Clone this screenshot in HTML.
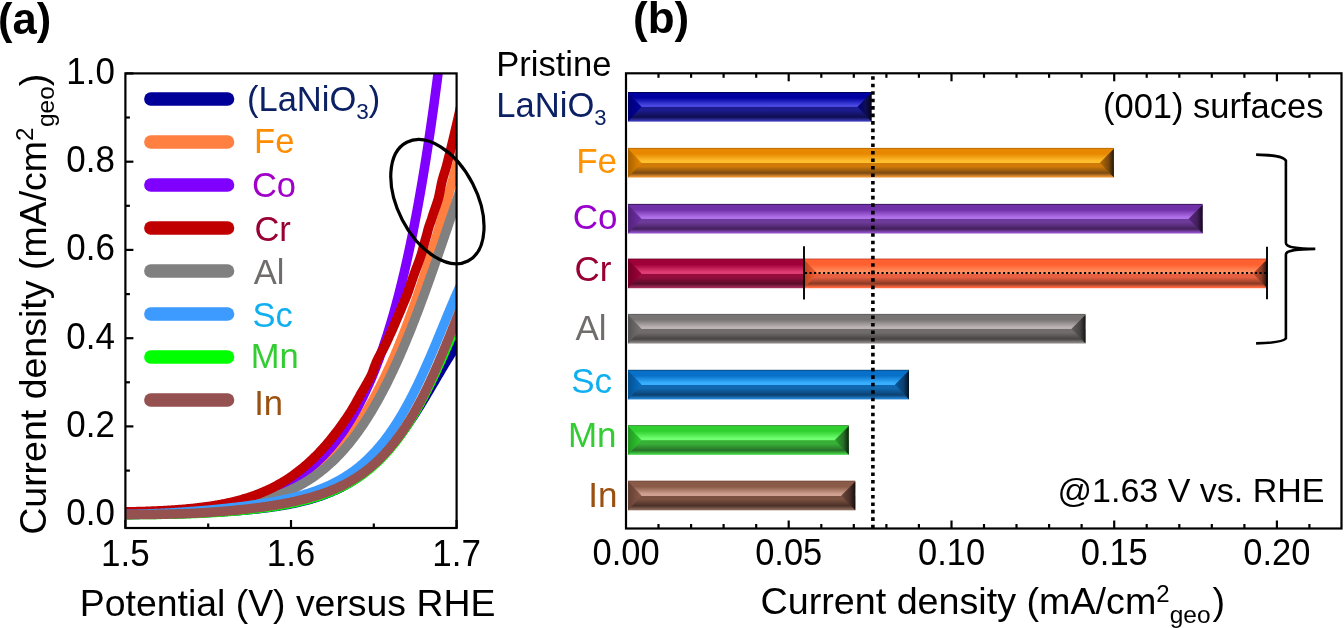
<!DOCTYPE html>
<html><head><meta charset="utf-8"><style>
html,body{margin:0;padding:0;background:#fff;width:1344px;height:628px;overflow:hidden;font-family:"Liberation Sans",sans-serif;}
svg{display:block;will-change:transform;}
</style></head><body>
<svg width="1344" height="628" viewBox="0 0 1344 628"><defs>
<clipPath id="clipA"><rect x="125.4" y="73.4" width="331.2" height="454.6"/></clipPath>
</defs>
<line x1="125.4" y1="514.7" x2="133.4" y2="514.7" stroke="#000" stroke-width="2.2"/>
<line x1="125.4" y1="470.6" x2="129.9" y2="470.6" stroke="#000" stroke-width="2.2"/>
<line x1="125.4" y1="426.4" x2="133.4" y2="426.4" stroke="#000" stroke-width="2.2"/>
<line x1="125.4" y1="382.3" x2="129.9" y2="382.3" stroke="#000" stroke-width="2.2"/>
<line x1="125.4" y1="338.2" x2="133.4" y2="338.2" stroke="#000" stroke-width="2.2"/>
<line x1="125.4" y1="294.1" x2="129.9" y2="294.1" stroke="#000" stroke-width="2.2"/>
<line x1="125.4" y1="249.9" x2="133.4" y2="249.9" stroke="#000" stroke-width="2.2"/>
<line x1="125.4" y1="205.8" x2="129.9" y2="205.8" stroke="#000" stroke-width="2.2"/>
<line x1="125.4" y1="161.7" x2="133.4" y2="161.7" stroke="#000" stroke-width="2.2"/>
<line x1="125.4" y1="117.5" x2="129.9" y2="117.5" stroke="#000" stroke-width="2.2"/>
<line x1="125.4" y1="73.4" x2="133.4" y2="73.4" stroke="#000" stroke-width="2.2"/>
<line x1="125.4" y1="528.0" x2="125.4" y2="520.0" stroke="#000" stroke-width="2.2"/>
<line x1="208.2" y1="528.0" x2="208.2" y2="523.5" stroke="#000" stroke-width="2.2"/>
<line x1="291.0" y1="528.0" x2="291.0" y2="520.0" stroke="#000" stroke-width="2.2"/>
<line x1="373.8" y1="528.0" x2="373.8" y2="523.5" stroke="#000" stroke-width="2.2"/>
<line x1="456.6" y1="528.0" x2="456.6" y2="520.0" stroke="#000" stroke-width="2.2"/>
<g clip-path="url(#clipA)" fill="none" stroke-width="9.5" stroke-linejoin="round">
<path d="M118.00,514.57 L119.00,514.56 L120.00,514.55 L121.00,514.55 L122.00,514.54 L123.00,514.53 L124.00,514.53 L125.00,514.52 L126.00,514.51 L127.00,514.50 L128.00,514.49 L129.00,514.48 L130.00,514.48 L131.00,514.47 L132.00,514.46 L133.00,514.45 L134.00,514.44 L135.00,514.43 L136.00,514.42 L137.00,514.41 L138.00,514.40 L139.00,514.38 L140.00,514.37 L141.00,514.36 L142.00,514.35 L143.00,514.34 L144.00,514.32 L145.00,514.31 L146.00,514.29 L147.00,514.28 L148.00,514.27 L149.00,514.25 L150.00,514.24 L151.00,514.22 L152.00,514.20 L153.00,514.19 L154.00,514.17 L155.00,514.15 L156.00,514.14 L157.00,514.12 L158.00,514.10 L159.00,514.08 L160.00,514.06 L161.00,514.04 L162.00,514.02 L163.00,514.00 L164.00,513.98 L165.00,513.96 L166.00,513.94 L167.00,513.91 L168.00,513.89 L169.00,513.87 L170.00,513.84 L171.00,513.82 L172.00,513.79 L173.00,513.77 L174.00,513.74 L175.00,513.72 L176.00,513.69 L177.00,513.66 L178.00,513.64 L179.00,513.61 L180.00,513.58 L181.00,513.55 L182.00,513.52 L183.00,513.49 L184.00,513.46 L185.00,513.42 L186.00,513.39 L187.00,513.36 L188.00,513.32 L189.00,513.29 L190.00,513.26 L191.00,513.22 L192.00,513.18 L193.00,513.15 L194.00,513.11 L195.00,513.07 L196.00,513.03 L197.00,512.99 L198.00,512.95 L199.00,512.91 L200.00,512.87 L201.00,512.83 L202.00,512.79 L203.00,512.74 L204.00,512.70 L205.00,512.65 L206.00,512.61 L207.00,512.56 L208.00,512.51 L209.00,512.47 L210.00,512.42 L211.00,512.37 L212.00,512.32 L213.00,512.26 L214.00,512.21 L215.00,512.16 L216.00,512.11 L217.00,512.05 L218.00,511.99 L219.00,511.94 L220.00,511.88 L221.00,511.82 L222.00,511.76 L223.00,511.70 L224.00,511.64 L225.00,511.58 L226.00,511.51 L227.00,511.45 L228.00,511.38 L229.00,511.32 L230.00,511.25 L231.00,511.18 L232.00,511.11 L233.00,511.04 L234.00,510.96 L235.00,510.89 L236.00,510.82 L237.00,510.74 L238.00,510.66 L239.00,510.58 L240.00,510.50 L241.00,510.42 L242.00,510.34 L243.00,510.25 L244.00,510.17 L245.00,510.08 L246.00,509.99 L247.00,509.90 L248.00,509.81 L249.00,509.72 L250.00,509.62 L251.00,509.53 L252.00,509.43 L253.00,509.33 L254.00,509.23 L255.00,509.12 L256.00,509.02 L257.00,508.91 L258.00,508.80 L259.00,508.69 L260.00,508.58 L261.00,508.46 L262.00,508.35 L263.00,508.23 L264.00,508.11 L265.00,507.99 L266.00,507.86 L267.00,507.73 L268.00,507.60 L269.00,507.47 L270.00,507.34 L271.00,507.20 L272.00,507.06 L273.00,506.92 L274.00,506.78 L275.00,506.63 L276.00,506.48 L277.00,506.33 L278.00,506.17 L279.00,506.02 L280.00,505.86 L281.00,505.69 L282.00,505.53 L283.00,505.36 L284.00,505.18 L285.00,505.01 L286.00,504.83 L287.00,504.65 L288.00,504.46 L289.00,504.27 L290.00,504.08 L291.00,503.88 L292.00,503.68 L293.00,503.48 L294.00,503.27 L295.00,503.06 L296.00,502.84 L297.00,502.63 L298.00,502.40 L299.00,502.17 L300.00,501.94 L301.00,501.70 L302.00,501.46 L303.00,501.22 L304.00,500.97 L305.00,500.71 L306.00,500.45 L307.00,500.19 L308.00,499.92 L309.00,499.64 L310.00,499.36 L311.00,499.08 L312.00,498.78 L313.00,498.49 L314.00,498.19 L315.00,497.88 L316.00,497.56 L317.00,497.24 L318.00,496.92 L319.00,496.58 L320.00,496.24 L321.00,495.90 L322.00,495.55 L323.00,495.19 L324.00,494.82 L325.00,494.45 L326.00,494.07 L327.00,493.68 L328.00,493.29 L329.00,492.88 L330.00,492.47 L331.00,492.05 L332.00,491.63 L333.00,491.19 L334.00,490.75 L335.00,490.30 L336.00,489.84 L337.00,489.37 L338.00,488.90 L339.00,488.41 L340.00,487.92 L341.00,487.41 L342.00,486.90 L343.00,486.37 L344.00,485.84 L345.00,485.30 L346.00,484.74 L347.00,484.18 L348.00,483.60 L349.00,483.02 L350.00,482.42 L351.00,481.82 L352.00,481.20 L353.00,480.57 L354.00,479.93 L355.00,479.27 L356.00,478.61 L357.00,477.93 L358.00,477.24 L359.00,476.54 L360.00,475.83 L361.00,475.10 L362.00,474.36 L363.00,473.61 L364.00,472.84 L365.00,472.07 L366.00,471.27 L367.00,470.47 L368.00,469.65 L369.00,468.81 L370.00,467.96 L371.00,467.10 L372.00,466.22 L373.00,465.33 L374.00,464.42 L375.00,463.50 L376.00,462.57 L377.00,461.61 L378.00,460.65 L379.00,459.66 L380.00,458.66 L381.00,457.65 L382.00,456.62 L383.00,455.57 L384.00,454.51 L385.00,453.43 L386.00,452.34 L387.00,451.23 L388.00,450.10 L389.00,448.96 L390.00,447.80 L391.00,446.62 L392.00,445.43 L393.00,444.22 L394.00,442.99 L395.00,441.75 L396.00,440.49 L397.00,439.22 L398.00,437.93 L399.00,436.62 L400.00,435.29 L401.00,433.95 L402.00,432.60 L403.00,431.22 L404.00,429.83 L405.00,428.43 L406.00,427.01 L407.00,425.57 L408.00,424.12 L409.00,422.66 L410.00,421.18 L411.00,419.68 L412.00,418.17 L413.00,416.65 L414.00,415.11 L415.00,413.57 L416.00,412.00 L417.00,410.43 L418.00,408.84 L419.00,407.24 L420.00,405.63 L421.00,404.01 L422.00,402.38 L423.00,400.74 L424.00,399.09 L425.00,397.43 L426.00,395.77 L427.00,394.09 L428.00,392.41 L429.00,390.73 L430.00,389.04 L431.00,387.34 L432.00,385.64 L433.00,383.94 L434.00,382.24 L435.00,380.54 L436.00,378.83 L437.00,377.13 L438.00,375.43 L439.00,373.73 L440.00,372.03 L441.00,370.34 L442.00,368.66 L443.00,366.98 L444.00,365.31 L445.00,363.65 L446.00,362.00 L447.00,360.36 L448.00,358.74 L449.00,357.13 L450.00,355.53 L451.00,353.96 L452.00,352.40 L453.00,350.86 L454.00,349.34 L455.00,347.84 L456.00,346.36 L457.00,344.91 L458.00,343.49 L459.00,342.10 L460.00,340.73 L461.00,339.40 L462.00,338.09" stroke="#000099"/>
<path d="M118.00,514.68 L119.00,514.67 L120.00,514.67 L121.00,514.67 L122.00,514.67 L123.00,514.66 L124.00,514.66 L125.00,514.66 L126.00,514.66 L127.00,514.65 L128.00,514.65 L129.00,514.65 L130.00,514.64 L131.00,514.64 L132.00,514.64 L133.00,514.63 L134.00,514.63 L135.00,514.62 L136.00,514.62 L137.00,514.61 L138.00,514.61 L139.00,514.60 L140.00,514.59 L141.00,514.59 L142.00,514.58 L143.00,514.57 L144.00,514.57 L145.00,514.56 L146.00,514.55 L147.00,514.54 L148.00,514.53 L149.00,514.53 L150.00,514.52 L151.00,514.51 L152.00,514.50 L153.00,514.49 L154.00,514.47 L155.00,514.46 L156.00,514.45 L157.00,514.44 L158.00,514.42 L159.00,514.41 L160.00,514.40 L161.00,514.38 L162.00,514.37 L163.00,514.35 L164.00,514.33 L165.00,514.32 L166.00,514.30 L167.00,514.28 L168.00,514.26 L169.00,514.24 L170.00,514.22 L171.00,514.20 L172.00,514.18 L173.00,514.16 L174.00,514.14 L175.00,514.11 L176.00,514.09 L177.00,514.06 L178.00,514.04 L179.00,514.01 L180.00,513.98 L181.00,513.96 L182.00,513.93 L183.00,513.90 L184.00,513.87 L185.00,513.84 L186.00,513.81 L187.00,513.77 L188.00,513.74 L189.00,513.70 L190.00,513.67 L191.00,513.63 L192.00,513.60 L193.00,513.56 L194.00,513.52 L195.00,513.48 L196.00,513.44 L197.00,513.40 L198.00,513.35 L199.00,513.31 L200.00,513.26 L201.00,513.22 L202.00,513.17 L203.00,513.12 L204.00,513.08 L205.00,513.03 L206.00,512.98 L207.00,512.92 L208.00,512.87 L209.00,512.82 L210.00,512.76 L211.00,512.71 L212.00,512.65 L213.00,512.59 L214.00,512.53 L215.00,512.47 L216.00,512.41 L217.00,512.35 L218.00,512.28 L219.00,512.22 L220.00,512.15 L221.00,512.08 L222.00,512.02 L223.00,511.95 L224.00,511.87 L225.00,511.80 L226.00,511.73 L227.00,511.65 L228.00,511.58 L229.00,511.50 L230.00,511.42 L231.00,511.34 L232.00,511.26 L233.00,511.18 L234.00,511.10 L235.00,511.01 L236.00,510.92 L237.00,510.84 L238.00,510.75 L239.00,510.66 L240.00,510.56 L241.00,510.47 L242.00,510.38 L243.00,510.28 L244.00,510.18 L245.00,510.08 L246.00,509.98 L247.00,509.88 L248.00,509.77 L249.00,509.67 L250.00,509.56 L251.00,509.45 L252.00,509.34 L253.00,509.23 L254.00,509.11 L255.00,509.00 L256.00,508.88 L257.00,508.76 L258.00,508.64 L259.00,508.52 L260.00,508.39 L261.00,508.27 L262.00,508.14 L263.00,508.01 L264.00,507.87 L265.00,507.74 L266.00,507.60 L267.00,507.46 L268.00,507.32 L269.00,507.18 L270.00,507.04 L271.00,506.89 L272.00,506.74 L273.00,506.59 L274.00,506.43 L275.00,506.28 L276.00,506.12 L277.00,505.95 L278.00,505.79 L279.00,505.62 L280.00,505.45 L281.00,505.28 L282.00,505.11 L283.00,504.93 L284.00,504.75 L285.00,504.57 L286.00,504.38 L287.00,504.19 L288.00,504.00 L289.00,503.80 L290.00,503.61 L291.00,503.40 L292.00,503.20 L293.00,502.99 L294.00,502.78 L295.00,502.56 L296.00,502.35 L297.00,502.12 L298.00,501.90 L299.00,501.67 L300.00,501.43 L301.00,501.20 L302.00,500.95 L303.00,500.71 L304.00,500.46 L305.00,500.20 L306.00,499.95 L307.00,499.68 L308.00,499.41 L309.00,499.14 L310.00,498.87 L311.00,498.58 L312.00,498.30 L313.00,498.01 L314.00,497.71 L315.00,497.41 L316.00,497.10 L317.00,496.79 L318.00,496.47 L319.00,496.14 L320.00,495.81 L321.00,495.48 L322.00,495.14 L323.00,494.79 L324.00,494.44 L325.00,494.08 L326.00,493.71 L327.00,493.33 L328.00,492.95 L329.00,492.57 L330.00,492.17 L331.00,491.77 L332.00,491.36 L333.00,490.95 L334.00,490.52 L335.00,490.09 L336.00,489.65 L337.00,489.20 L338.00,488.75 L339.00,488.28 L340.00,487.81 L341.00,487.32 L342.00,486.83 L343.00,486.33 L344.00,485.82 L345.00,485.30 L346.00,484.78 L347.00,484.24 L348.00,483.69 L349.00,483.13 L350.00,482.56 L351.00,481.98 L352.00,481.39 L353.00,480.79 L354.00,480.17 L355.00,479.55 L356.00,478.91 L357.00,478.27 L358.00,477.61 L359.00,476.93 L360.00,476.25 L361.00,475.55 L362.00,474.84 L363.00,474.12 L364.00,473.38 L365.00,472.63 L366.00,471.86 L367.00,471.08 L368.00,470.29 L369.00,469.48 L370.00,468.66 L371.00,467.82 L372.00,466.97 L373.00,466.10 L374.00,465.22 L375.00,464.32 L376.00,463.40 L377.00,462.47 L378.00,461.52 L379.00,460.55 L380.00,459.57 L381.00,458.56 L382.00,457.54 L383.00,456.51 L384.00,455.45 L385.00,454.38 L386.00,453.28 L387.00,452.17 L388.00,451.04 L389.00,449.89 L390.00,448.72 L391.00,447.53 L392.00,446.32 L393.00,445.09 L394.00,443.84 L395.00,442.57 L396.00,441.28 L397.00,439.96 L398.00,438.63 L399.00,437.27 L400.00,435.89 L401.00,434.49 L402.00,433.07 L403.00,431.63 L404.00,430.16 L405.00,428.67 L406.00,427.16 L407.00,425.63 L408.00,424.07 L409.00,422.50 L410.00,420.89 L411.00,419.27 L412.00,417.62 L413.00,415.95 L414.00,414.26 L415.00,412.54 L416.00,410.80 L417.00,409.04 L418.00,407.26 L419.00,405.45 L420.00,403.62 L421.00,401.77 L422.00,399.89 L423.00,398.00 L424.00,396.08 L425.00,394.14 L426.00,392.18 L427.00,390.20 L428.00,388.19 L429.00,386.17 L430.00,384.13 L431.00,382.06 L432.00,379.98 L433.00,377.88 L434.00,375.76 L435.00,373.63 L436.00,371.47 L437.00,369.30 L438.00,367.12 L439.00,364.91 L440.00,362.70 L441.00,360.47 L442.00,358.23 L443.00,355.97 L444.00,353.71 L445.00,351.43 L446.00,349.15 L447.00,346.86 L448.00,344.56 L449.00,342.25 L450.00,339.94 L451.00,337.63 L452.00,335.31 L453.00,332.99 L454.00,330.67 L455.00,328.36 L456.00,326.05 L457.00,323.74 L458.00,321.44 L459.00,319.14 L460.00,316.85 L461.00,314.58 L462.00,312.32" stroke="#00ff00"/>
<path d="M118.00,514.45 L119.00,514.44 L120.00,514.43 L121.00,514.42 L122.00,514.41 L123.00,514.40 L124.00,514.38 L125.00,514.37 L126.00,514.36 L127.00,514.35 L128.00,514.33 L129.00,514.32 L130.00,514.31 L131.00,514.29 L132.00,514.28 L133.00,514.26 L134.00,514.25 L135.00,514.23 L136.00,514.21 L137.00,514.20 L138.00,514.18 L139.00,514.16 L140.00,514.14 L141.00,514.12 L142.00,514.10 L143.00,514.08 L144.00,514.06 L145.00,514.04 L146.00,514.01 L147.00,513.99 L148.00,513.97 L149.00,513.94 L150.00,513.92 L151.00,513.89 L152.00,513.86 L153.00,513.83 L154.00,513.81 L155.00,513.78 L156.00,513.75 L157.00,513.72 L158.00,513.68 L159.00,513.65 L160.00,513.62 L161.00,513.58 L162.00,513.55 L163.00,513.51 L164.00,513.47 L165.00,513.44 L166.00,513.40 L167.00,513.36 L168.00,513.31 L169.00,513.27 L170.00,513.23 L171.00,513.18 L172.00,513.14 L173.00,513.09 L174.00,513.04 L175.00,512.99 L176.00,512.94 L177.00,512.89 L178.00,512.83 L179.00,512.78 L180.00,512.72 L181.00,512.67 L182.00,512.61 L183.00,512.55 L184.00,512.48 L185.00,512.42 L186.00,512.35 L187.00,512.29 L188.00,512.22 L189.00,512.15 L190.00,512.08 L191.00,512.01 L192.00,511.93 L193.00,511.85 L194.00,511.77 L195.00,511.69 L196.00,511.61 L197.00,511.53 L198.00,511.44 L199.00,511.35 L200.00,511.26 L201.00,511.17 L202.00,511.08 L203.00,510.98 L204.00,510.88 L205.00,510.78 L206.00,510.68 L207.00,510.57 L208.00,510.46 L209.00,510.35 L210.00,510.24 L211.00,510.13 L212.00,510.01 L213.00,509.89 L214.00,509.77 L215.00,509.64 L216.00,509.51 L217.00,509.38 L218.00,509.25 L219.00,509.11 L220.00,508.97 L221.00,508.83 L222.00,508.69 L223.00,508.54 L224.00,508.39 L225.00,508.23 L226.00,508.07 L227.00,507.91 L228.00,507.75 L229.00,507.58 L230.00,507.41 L231.00,507.23 L232.00,507.06 L233.00,506.87 L234.00,506.69 L235.00,506.50 L236.00,506.31 L237.00,506.11 L238.00,505.91 L239.00,505.70 L240.00,505.49 L241.00,505.28 L242.00,505.06 L243.00,504.84 L244.00,504.62 L245.00,504.39 L246.00,504.15 L247.00,503.91 L248.00,503.67 L249.00,503.42 L250.00,503.17 L251.00,502.91 L252.00,502.65 L253.00,502.38 L254.00,502.10 L255.00,501.83 L256.00,501.54 L257.00,501.25 L258.00,500.96 L259.00,500.66 L260.00,500.35 L261.00,500.04 L262.00,499.73 L263.00,499.40 L264.00,499.08 L265.00,498.74 L266.00,498.40 L267.00,498.05 L268.00,497.70 L269.00,497.34 L270.00,496.97 L271.00,496.60 L272.00,496.22 L273.00,495.84 L274.00,495.44 L275.00,495.04 L276.00,494.63 L277.00,494.22 L278.00,493.80 L279.00,493.37 L280.00,492.93 L281.00,492.49 L282.00,492.03 L283.00,491.57 L284.00,491.11 L285.00,490.63 L286.00,490.15 L287.00,489.65 L288.00,489.15 L289.00,488.64 L290.00,488.12 L291.00,487.59 L292.00,487.06 L293.00,486.51 L294.00,485.96 L295.00,485.39 L296.00,484.82 L297.00,484.24 L298.00,483.64 L299.00,483.04 L300.00,482.43 L301.00,481.80 L302.00,481.17 L303.00,480.53 L304.00,479.87 L305.00,479.21 L306.00,478.53 L307.00,477.84 L308.00,477.14 L309.00,476.44 L310.00,475.71 L311.00,474.98 L312.00,474.24 L313.00,473.48 L314.00,472.71 L315.00,471.93 L316.00,471.14 L317.00,470.33 L318.00,469.51 L319.00,468.68 L320.00,467.84 L321.00,466.98 L322.00,466.11 L323.00,465.22 L324.00,464.33 L325.00,463.41 L326.00,462.49 L327.00,461.55 L328.00,460.59 L329.00,459.62 L330.00,458.64 L331.00,457.64 L332.00,456.63 L333.00,455.60 L334.00,454.55 L335.00,453.49 L336.00,452.42 L337.00,451.33 L338.00,450.22 L339.00,449.09 L340.00,447.95 L341.00,446.79 L342.00,445.62 L343.00,444.43 L344.00,443.22 L345.00,441.99 L346.00,440.75 L347.00,439.49 L348.00,438.21 L349.00,436.91 L350.00,435.59 L351.00,434.26 L352.00,432.91 L353.00,431.53 L354.00,430.14 L355.00,428.73 L356.00,427.30 L357.00,425.85 L358.00,424.38 L359.00,422.89 L360.00,421.38 L361.00,419.85 L362.00,418.30 L363.00,416.73 L364.00,415.14 L365.00,413.52 L366.00,411.89 L367.00,410.23 L368.00,408.56 L369.00,406.86 L370.00,405.13 L371.00,403.39 L372.00,401.63 L373.00,399.84 L374.00,398.03 L375.00,396.19 L376.00,394.34 L377.00,392.46 L378.00,390.55 L379.00,388.63 L380.00,386.68 L381.00,384.71 L382.00,382.71 L383.00,380.69 L384.00,378.64 L385.00,376.57 L386.00,374.48 L387.00,372.36 L388.00,370.22 L389.00,368.05 L390.00,365.86 L391.00,363.65 L392.00,361.40 L393.00,359.14 L394.00,356.85 L395.00,354.53 L396.00,352.19 L397.00,349.82 L398.00,347.43 L399.00,345.01 L400.00,342.57 L401.00,340.10 L402.00,337.60 L403.00,335.08 L404.00,332.54 L405.00,329.97 L406.00,327.37 L407.00,324.75 L408.00,322.10 L409.00,319.42 L410.00,316.72 L411.00,314.00 L412.00,311.25 L413.00,308.47 L414.00,305.67 L415.00,302.85 L416.00,299.99 L416.40,298.85 L416.80,297.70 L417.20,296.54 L417.60,295.38 L418.00,294.22 L418.40,293.05 L418.80,291.88 L419.20,290.70 L419.60,289.52 L420.00,288.34 L420.40,287.15 L420.80,285.96 L421.20,284.77 L421.60,283.57 L422.00,282.36 L422.40,281.16 L422.80,279.95 L423.20,278.73 L423.60,277.51 L424.00,276.29 L424.40,275.07 L424.80,273.84 L425.20,272.60 L425.60,271.37 L426.00,270.12 L426.40,268.88 L426.80,267.63 L427.20,266.38 L427.60,265.12 L428.00,263.86 L428.40,262.60 L428.80,261.33 L429.20,260.06 L429.60,258.79 L430.00,257.51 L430.40,256.23 L430.80,254.94 L431.20,253.65 L431.60,252.36 L432.00,251.07 L432.40,249.77 L432.80,248.47 L433.20,247.16 L433.60,245.85 L434.00,244.54 L434.40,243.22 L434.80,241.90 L435.20,240.58 L435.60,239.25 L436.00,237.92 L436.40,236.59 L436.80,235.25 L437.20,233.91 L437.60,232.57 L438.00,231.22 L438.40,229.88 L438.80,228.52 L439.20,227.17 L439.60,225.81 L440.00,224.45 L440.40,223.09 L440.80,221.72 L441.20,220.35 L441.60,218.97 L442.00,217.60 L442.40,216.22 L442.80,214.84 L443.20,213.45 L443.60,212.07 L444.00,210.68 L444.40,209.28 L444.80,207.89 L445.20,206.49 L445.60,205.09 L446.00,203.68 L446.40,202.28 L446.80,200.87 L447.20,199.46 L447.60,198.05 L448.00,196.63 L448.40,195.21 L448.80,193.79 L449.20,192.37 L449.60,190.94 L450.00,189.52 L450.40,188.09 L450.80,186.65 L451.20,185.22 L451.60,183.78 L452.00,182.35 L452.40,180.91 L452.80,179.46 L453.20,178.02 L453.60,176.58 L454.00,175.13 L454.40,173.68 L454.80,172.23 L455.20,170.78 L455.60,169.32 L456.00,167.86 L456.40,166.41 L456.80,164.95 L457.20,163.49 L457.60,162.03 L458.00,160.56 L458.40,159.10 L458.80,157.63 L459.20,156.17 L459.60,154.70 L460.00,153.23 L460.40,151.76 L460.80,150.29 L461.20,148.81 L461.60,147.34 L462.00,145.87" stroke="#ff8040"/>
<path d="M118.00,514.28 L119.00,514.27 L120.00,514.25 L121.00,514.23 L122.00,514.21 L123.00,514.19 L124.00,514.17 L125.00,514.15 L126.00,514.13 L127.00,514.11 L128.00,514.09 L129.00,514.07 L130.00,514.05 L131.00,514.02 L132.00,514.00 L133.00,513.97 L134.00,513.95 L135.00,513.92 L136.00,513.89 L137.00,513.86 L138.00,513.83 L139.00,513.80 L140.00,513.77 L141.00,513.74 L142.00,513.71 L143.00,513.67 L144.00,513.64 L145.00,513.60 L146.00,513.57 L147.00,513.53 L148.00,513.49 L149.00,513.45 L150.00,513.41 L151.00,513.37 L152.00,513.33 L153.00,513.29 L154.00,513.24 L155.00,513.19 L156.00,513.15 L157.00,513.10 L158.00,513.05 L159.00,513.00 L160.00,512.95 L161.00,512.89 L162.00,512.84 L163.00,512.78 L164.00,512.73 L165.00,512.67 L166.00,512.61 L167.00,512.55 L168.00,512.48 L169.00,512.42 L170.00,512.35 L171.00,512.28 L172.00,512.22 L173.00,512.15 L174.00,512.07 L175.00,512.00 L176.00,511.92 L177.00,511.85 L178.00,511.77 L179.00,511.69 L180.00,511.61 L181.00,511.52 L182.00,511.44 L183.00,511.35 L184.00,511.26 L185.00,511.17 L186.00,511.07 L187.00,510.98 L188.00,510.88 L189.00,510.78 L190.00,510.68 L191.00,510.58 L192.00,510.47 L193.00,510.36 L194.00,510.25 L195.00,510.14 L196.00,510.02 L197.00,509.91 L198.00,509.79 L199.00,509.67 L200.00,509.54 L201.00,509.42 L202.00,509.29 L203.00,509.16 L204.00,509.02 L205.00,508.89 L206.00,508.75 L207.00,508.60 L208.00,508.46 L209.00,508.31 L210.00,508.16 L211.00,508.01 L212.00,507.85 L213.00,507.70 L214.00,507.53 L215.00,507.37 L216.00,507.20 L217.00,507.03 L218.00,506.86 L219.00,506.68 L220.00,506.50 L221.00,506.32 L222.00,506.13 L223.00,505.94 L224.00,505.75 L225.00,505.55 L226.00,505.35 L227.00,505.14 L228.00,504.94 L229.00,504.72 L230.00,504.51 L231.00,504.29 L232.00,504.07 L233.00,503.84 L234.00,503.61 L235.00,503.37 L236.00,503.13 L237.00,502.89 L238.00,502.64 L239.00,502.39 L240.00,502.14 L241.00,501.88 L242.00,501.61 L243.00,501.34 L244.00,501.07 L245.00,500.79 L246.00,500.51 L247.00,500.22 L248.00,499.92 L249.00,499.63 L250.00,499.32 L251.00,499.01 L252.00,498.70 L253.00,498.38 L254.00,498.06 L255.00,497.73 L256.00,497.39 L257.00,497.05 L258.00,496.71 L259.00,496.35 L260.00,496.00 L261.00,495.63 L262.00,495.26 L263.00,494.88 L264.00,494.50 L265.00,494.11 L266.00,493.72 L267.00,493.31 L268.00,492.90 L269.00,492.49 L270.00,492.07 L271.00,491.64 L272.00,491.20 L273.00,490.75 L274.00,490.30 L275.00,489.84 L276.00,489.38 L277.00,488.90 L278.00,488.42 L279.00,487.93 L280.00,487.43 L281.00,486.92 L282.00,486.41 L283.00,485.89 L284.00,485.35 L285.00,484.81 L286.00,484.26 L287.00,483.70 L288.00,483.13 L289.00,482.56 L290.00,481.97 L291.00,481.37 L292.00,480.76 L293.00,480.14 L294.00,479.52 L295.00,478.88 L296.00,478.23 L297.00,477.57 L298.00,476.90 L299.00,476.22 L300.00,475.52 L301.00,474.82 L302.00,474.10 L303.00,473.37 L304.00,472.63 L305.00,471.88 L306.00,471.11 L307.00,470.33 L308.00,469.54 L309.00,468.73 L310.00,467.91 L311.00,467.08 L312.00,466.23 L313.00,465.37 L314.00,464.50 L315.00,463.61 L316.00,462.70 L317.00,461.78 L318.00,460.84 L319.00,459.89 L320.00,458.92 L321.00,457.94 L322.00,456.94 L323.00,455.92 L324.00,454.88 L325.00,453.83 L326.00,452.75 L327.00,451.66 L328.00,450.55 L329.00,449.43 L330.00,448.28 L331.00,447.11 L332.00,445.92 L333.00,444.72 L334.00,443.49 L335.00,442.24 L336.00,440.97 L337.00,439.67 L338.00,438.36 L339.00,437.02 L340.00,435.66 L341.00,434.27 L342.00,432.87 L343.00,431.43 L344.00,429.97 L345.00,428.49 L346.00,426.98 L347.00,425.44 L348.00,423.88 L349.00,422.29 L350.00,420.67 L351.00,419.03 L352.00,417.35 L353.00,415.65 L354.00,413.91 L355.00,412.15 L356.00,410.35 L357.00,408.52 L358.00,406.66 L359.00,404.77 L360.00,402.84 L361.00,400.88 L362.00,398.89 L363.00,396.86 L364.00,394.79 L365.00,392.69 L366.00,390.54 L367.00,388.37 L368.00,386.15 L369.00,383.89 L370.00,381.59 L371.00,379.26 L372.00,376.88 L373.00,374.45 L374.00,371.99 L375.00,369.48 L376.00,366.92 L377.00,364.32 L378.00,361.67 L379.00,358.98 L380.00,356.24 L381.00,353.44 L382.00,350.60 L383.00,347.71 L384.00,344.76 L385.00,341.76 L386.00,338.71 L387.00,335.60 L388.00,332.44 L389.00,329.21 L390.00,325.93 L391.00,322.60 L392.00,319.20 L393.00,315.73 L394.00,312.21 L395.00,308.62 L396.00,304.97 L397.00,301.25 L398.00,297.47 L398.40,295.93 L398.80,294.39 L399.20,292.83 L399.60,291.27 L400.00,289.69 L400.40,288.10 L400.80,286.50 L401.20,284.89 L401.60,283.26 L402.00,281.63 L402.40,279.98 L402.80,278.32 L403.20,276.65 L403.60,274.96 L404.00,273.27 L404.40,271.56 L404.80,269.84 L405.20,268.11 L405.60,266.36 L406.00,264.60 L406.40,262.83 L406.80,261.05 L407.20,259.25 L407.60,257.44 L408.00,255.62 L408.40,253.79 L408.80,251.94 L409.20,250.08 L409.60,248.20 L410.00,246.31 L410.40,244.41 L410.80,242.49 L411.20,240.56 L411.60,238.62 L412.00,236.66 L412.40,234.69 L412.80,232.70 L413.20,230.70 L413.60,228.68 L414.00,226.65 L414.40,224.61 L414.80,222.55 L415.20,220.47 L415.60,218.38 L416.00,216.28 L416.40,214.16 L416.80,212.02 L417.20,209.87 L417.60,207.71 L418.00,205.53 L418.40,203.33 L418.80,201.11 L419.20,198.89 L419.60,196.64 L420.00,194.38 L420.40,192.10 L420.80,189.81 L421.20,187.50 L421.60,185.17 L422.00,182.82 L422.40,180.46 L422.80,178.08 L423.20,175.69 L423.60,173.28 L424.00,170.85 L424.40,168.40 L424.80,165.93 L425.20,163.45 L425.60,160.95 L426.00,158.43 L426.40,155.89 L426.80,153.34 L427.20,150.76 L427.60,148.17 L428.00,145.56 L428.40,142.93 L428.80,140.28 L429.20,137.62 L429.60,134.93 L430.00,132.22 L430.40,129.50 L430.80,126.75 L431.20,123.99 L431.60,121.20 L432.00,118.40 L432.40,115.57 L432.80,112.73 L433.20,109.86 L433.60,106.98 L434.00,104.07 L434.40,101.14 L434.80,98.19 L435.20,95.22 L435.60,92.23 L436.00,89.22 L436.40,86.19 L436.80,83.13 L437.20,80.05 L437.60,76.95 L438.00,73.83 L438.40,70.69 L438.80,67.52 L439.20,64.33 L439.60,61.12 L440.00,57.89 L440.40,54.63 L440.80,51.35 L441.20,48.04 L441.60,44.71 L442.00,41.36 L442.40,37.99" stroke="#8000ff"/>
<path d="M118.00,513.75 L119.00,513.73 L120.00,513.71 L121.00,513.70 L122.00,513.68 L123.00,513.66 L124.00,513.64 L125.00,513.62 L126.00,513.60 L127.00,513.58 L128.00,513.56 L129.00,513.54 L130.00,513.52 L131.00,513.50 L132.00,513.48 L133.00,513.45 L134.00,513.43 L135.00,513.41 L136.00,513.38 L137.00,513.36 L138.00,513.34 L139.00,513.31 L140.00,513.28 L141.00,513.26 L142.00,513.23 L143.00,513.20 L144.00,513.18 L145.00,513.15 L146.00,513.12 L147.00,513.09 L148.00,513.06 L149.00,513.03 L150.00,513.00 L151.00,512.97 L152.00,512.94 L153.00,512.90 L154.00,512.87 L155.00,512.84 L156.00,512.80 L157.00,512.76 L158.00,512.73 L159.00,512.69 L160.00,512.65 L161.00,512.62 L162.00,512.58 L163.00,512.54 L164.00,512.50 L165.00,512.45 L166.00,512.41 L167.00,512.37 L168.00,512.33 L169.00,512.28 L170.00,512.23 L171.00,512.19 L172.00,512.14 L173.00,512.09 L174.00,512.04 L175.00,511.99 L176.00,511.94 L177.00,511.89 L178.00,511.84 L179.00,511.78 L180.00,511.72 L181.00,511.67 L182.00,511.61 L183.00,511.55 L184.00,511.49 L185.00,511.43 L186.00,511.37 L187.00,511.30 L188.00,511.24 L189.00,511.17 L190.00,511.11 L191.00,511.04 L192.00,510.97 L193.00,510.89 L194.00,510.82 L195.00,510.75 L196.00,510.67 L197.00,510.59 L198.00,510.51 L199.00,510.43 L200.00,510.35 L201.00,510.27 L202.00,510.18 L203.00,510.10 L204.00,510.01 L205.00,509.92 L206.00,509.82 L207.00,509.73 L208.00,509.63 L209.00,509.54 L210.00,509.44 L211.00,509.33 L212.00,509.23 L213.00,509.12 L214.00,509.02 L215.00,508.91 L216.00,508.79 L217.00,508.68 L218.00,508.56 L219.00,508.44 L220.00,508.32 L221.00,508.20 L222.00,508.07 L223.00,507.94 L224.00,507.81 L225.00,507.68 L226.00,507.54 L227.00,507.40 L228.00,507.26 L229.00,507.12 L230.00,506.97 L231.00,506.82 L232.00,506.67 L233.00,506.51 L234.00,506.35 L235.00,506.19 L236.00,506.02 L237.00,505.85 L238.00,505.68 L239.00,505.51 L240.00,505.33 L241.00,505.15 L242.00,504.96 L243.00,504.77 L244.00,504.58 L245.00,504.38 L246.00,504.18 L247.00,503.98 L248.00,503.77 L249.00,503.55 L250.00,503.34 L251.00,503.12 L252.00,502.89 L253.00,502.66 L254.00,502.43 L255.00,502.19 L256.00,501.95 L257.00,501.70 L258.00,501.45 L259.00,501.19 L260.00,500.93 L261.00,500.66 L262.00,500.39 L263.00,500.11 L264.00,499.83 L265.00,499.54 L266.00,499.25 L267.00,498.95 L268.00,498.65 L269.00,498.34 L270.00,498.02 L271.00,497.70 L272.00,497.37 L273.00,497.04 L274.00,496.70 L275.00,496.35 L276.00,496.00 L277.00,495.64 L278.00,495.27 L279.00,494.90 L280.00,494.52 L281.00,494.13 L282.00,493.74 L283.00,493.34 L284.00,492.93 L285.00,492.51 L286.00,492.09 L287.00,491.65 L288.00,491.21 L289.00,490.77 L290.00,490.31 L291.00,489.85 L292.00,489.37 L293.00,488.89 L294.00,488.40 L295.00,487.91 L296.00,487.40 L297.00,486.88 L298.00,486.36 L299.00,485.82 L300.00,485.28 L301.00,484.72 L302.00,484.16 L303.00,483.58 L304.00,483.00 L305.00,482.41 L306.00,481.80 L307.00,481.19 L308.00,480.56 L309.00,479.92 L310.00,479.27 L311.00,478.62 L312.00,477.95 L313.00,477.26 L314.00,476.57 L315.00,475.86 L316.00,475.15 L317.00,474.42 L318.00,473.68 L319.00,472.92 L320.00,472.15 L321.00,471.37 L322.00,470.58 L323.00,469.77 L324.00,468.96 L325.00,468.12 L326.00,467.28 L327.00,466.42 L328.00,465.54 L329.00,464.65 L330.00,463.75 L331.00,462.83 L332.00,461.90 L333.00,460.95 L334.00,459.99 L335.00,459.01 L336.00,458.02 L337.00,457.01 L338.00,455.98 L339.00,454.94 L340.00,453.89 L341.00,452.81 L342.00,451.72 L343.00,450.62 L344.00,449.49 L345.00,448.35 L346.00,447.20 L347.00,446.02 L348.00,444.83 L349.00,443.62 L350.00,442.39 L351.00,441.14 L352.00,439.88 L353.00,438.60 L354.00,437.30 L355.00,435.98 L356.00,434.64 L357.00,433.28 L358.00,431.90 L359.00,430.51 L360.00,429.09 L361.00,427.65 L362.00,426.20 L363.00,424.72 L364.00,423.23 L365.00,421.71 L366.00,420.18 L367.00,418.62 L368.00,417.04 L369.00,415.45 L370.00,413.83 L371.00,412.19 L372.00,410.53 L373.00,408.85 L374.00,407.14 L375.00,405.42 L376.00,403.68 L377.00,401.91 L378.00,400.12 L379.00,398.31 L380.00,396.48 L381.00,394.62 L382.00,392.75 L383.00,390.85 L384.00,388.93 L385.00,386.99 L386.00,385.03 L387.00,383.04 L388.00,381.03 L389.00,379.01 L390.00,376.95 L391.00,374.88 L392.00,372.79 L393.00,370.67 L394.00,368.53 L395.00,366.37 L396.00,364.18 L397.00,361.98 L398.00,359.75 L399.00,357.51 L400.00,355.24 L401.00,352.95 L402.00,350.63 L403.00,348.30 L404.00,345.95 L405.00,343.57 L406.00,341.18 L407.00,338.76 L408.00,336.32 L409.00,333.87 L410.00,331.39 L411.00,328.89 L412.00,326.38 L413.00,323.84 L414.00,321.29 L415.00,318.72 L416.00,316.12 L417.00,313.51 L418.00,310.89 L419.00,308.24 L420.00,305.58 L421.00,302.90 L422.00,300.21 L423.00,297.50 L423.40,296.41 L423.80,295.32 L424.20,294.22 L424.60,293.12 L425.00,292.03 L425.40,290.93 L425.80,289.82 L426.20,288.72 L426.60,287.61 L427.00,286.50 L427.40,285.39 L427.80,284.27 L428.20,283.15 L428.60,282.04 L429.00,280.91 L429.40,279.79 L429.80,278.67 L430.20,277.54 L430.60,276.41 L431.00,275.28 L431.40,274.15 L431.80,273.01 L432.20,271.87 L432.60,270.74 L433.00,269.59 L433.40,268.45 L433.80,267.31 L434.20,266.16 L434.60,265.02 L435.00,263.87 L435.40,262.72 L435.80,261.57 L436.20,260.41 L436.60,259.26 L437.00,258.10 L437.40,256.94 L437.80,255.79 L438.20,254.63 L438.60,253.46 L439.00,252.30 L439.40,251.14 L439.80,249.97 L440.20,248.81 L440.60,247.64 L441.00,246.47 L441.40,245.30 L441.80,244.13 L442.20,242.96 L442.60,241.79 L443.00,240.62 L443.40,239.45 L443.80,238.27 L444.20,237.10 L444.60,235.93 L445.00,234.75 L445.40,233.57 L445.80,232.40 L446.20,231.22 L446.60,230.04 L447.00,228.87 L447.40,227.69 L447.80,226.51 L448.20,225.33 L448.60,224.16 L449.00,222.98 L449.40,221.80 L449.80,220.62 L450.20,219.45 L450.60,218.27 L451.00,217.09 L451.40,215.91 L451.80,214.74 L452.20,213.56 L452.60,212.38 L453.00,211.21 L453.40,210.03 L453.80,208.86 L454.20,207.69 L454.60,206.51 L455.00,205.34 L455.40,204.17 L455.80,203.00 L456.20,201.83 L456.60,200.66 L457.00,199.49 L457.40,198.33 L457.80,197.16 L458.20,196.00 L458.60,194.83 L459.00,193.67 L459.40,192.51 L459.80,191.36 L460.20,190.20 L460.60,189.04 L461.00,187.89 L461.40,186.74 L461.80,185.59" stroke="#808080"/>
<path d="M118.00,511.94 L119.00,511.93 L120.00,511.92 L121.00,511.90 L122.00,511.89 L123.00,511.88 L124.00,511.86 L125.00,511.85 L126.00,511.83 L127.00,511.81 L128.00,511.80 L129.00,511.78 L130.00,511.76 L131.00,511.74 L132.00,511.72 L133.00,511.70 L134.00,511.68 L135.00,511.65 L136.00,511.63 L137.00,511.60 L138.00,511.58 L139.00,511.55 L140.00,511.53 L141.00,511.50 L142.00,511.47 L143.00,511.44 L144.00,511.41 L145.00,511.38 L146.00,511.34 L147.00,511.31 L148.00,511.27 L149.00,511.24 L150.00,511.20 L151.00,511.16 L152.00,511.12 L153.00,511.08 L154.00,511.04 L155.00,511.00 L156.00,510.96 L157.00,510.91 L158.00,510.87 L159.00,510.82 L160.00,510.77 L161.00,510.73 L162.00,510.68 L163.00,510.62 L164.00,510.57 L165.00,510.52 L166.00,510.46 L167.00,510.40 L168.00,510.35 L169.00,510.29 L170.00,510.23 L171.00,510.16 L172.00,510.10 L173.00,510.03 L174.00,509.97 L175.00,509.90 L176.00,509.83 L177.00,509.76 L178.00,509.68 L179.00,509.61 L180.00,509.53 L181.00,509.45 L182.00,509.37 L183.00,509.29 L184.00,509.21 L185.00,509.12 L186.00,509.03 L187.00,508.94 L188.00,508.85 L189.00,508.76 L190.00,508.66 L191.00,508.56 L192.00,508.46 L193.00,508.36 L194.00,508.25 L195.00,508.15 L196.00,508.04 L197.00,507.92 L198.00,507.81 L199.00,507.69 L200.00,507.57 L201.00,507.45 L202.00,507.33 L203.00,507.20 L204.00,507.07 L205.00,506.94 L206.00,506.80 L207.00,506.66 L208.00,506.52 L209.00,506.38 L210.00,506.23 L211.00,506.08 L212.00,505.92 L213.00,505.76 L214.00,505.60 L215.00,505.44 L216.00,505.27 L217.00,505.10 L218.00,504.93 L219.00,504.75 L220.00,504.57 L221.00,504.38 L222.00,504.19 L223.00,504.00 L224.00,503.80 L225.00,503.60 L226.00,503.39 L227.00,503.18 L228.00,502.97 L229.00,502.75 L230.00,502.53 L231.00,502.30 L232.00,502.07 L233.00,501.83 L234.00,501.59 L235.00,501.34 L236.00,501.09 L237.00,500.83 L238.00,500.57 L239.00,500.30 L240.00,500.03 L241.00,499.75 L242.00,499.47 L243.00,499.18 L244.00,498.89 L245.00,498.59 L246.00,498.28 L247.00,497.97 L248.00,497.65 L249.00,497.33 L250.00,497.00 L251.00,496.66 L252.00,496.32 L253.00,495.97 L254.00,495.61 L255.00,495.25 L256.00,494.88 L257.00,494.50 L258.00,494.12 L259.00,493.73 L260.00,493.33 L261.00,492.92 L262.00,492.51 L263.00,492.09 L264.00,491.66 L265.00,491.22 L266.00,490.78 L267.00,490.33 L268.00,489.87 L269.00,489.40 L270.00,488.92 L271.00,488.43 L272.00,487.94 L273.00,487.44 L274.00,486.92 L275.00,486.40 L276.00,485.87 L277.00,485.33 L278.00,484.78 L279.00,484.23 L280.00,483.66 L281.00,483.08 L282.00,482.49 L283.00,481.89 L284.00,481.29 L285.00,480.67 L286.00,480.04 L287.00,479.40 L288.00,478.75 L289.00,478.09 L290.00,477.42 L291.00,476.74 L292.00,476.05 L293.00,475.34 L294.00,474.63 L295.00,473.90 L296.00,473.16 L297.00,472.41 L298.00,471.65 L299.00,470.88 L300.00,470.09 L301.00,469.29 L302.00,468.48 L303.00,467.66 L304.00,466.82 L305.00,465.97 L306.00,465.11 L307.00,464.24 L308.00,463.35 L309.00,462.45 L310.00,461.53 L311.00,460.61 L312.00,459.67 L313.00,458.71 L314.00,457.74 L315.00,456.76 L316.00,455.77 L317.00,454.76 L318.00,453.73 L319.00,452.69 L320.00,451.64 L321.00,450.57 L322.00,449.49 L323.00,448.39 L324.00,447.28 L325.00,446.15 L326.00,445.01 L327.00,443.85 L328.00,442.68 L329.00,441.49 L330.00,440.28 L331.00,439.06 L332.00,437.83 L333.00,436.57 L334.00,435.31 L335.00,434.02 L336.00,432.72 L337.00,431.41 L338.00,430.07 L339.00,428.73 L340.00,427.36 L341.00,425.98 L342.00,424.58 L343.00,423.16 L344.00,421.73 L345.00,420.28 L346.00,418.81 L347.00,417.33 L348.00,415.83 L349.00,414.31 L350.00,412.77 L351.00,411.22 L352.00,409.65 L352.97,408.06 L353.92,406.45 L354.84,404.83 L355.74,403.19 L356.64,401.53 L357.55,399.85 L358.47,398.15 L359.42,396.44 L360.40,394.70 L361.42,392.95 L362.45,391.18 L363.50,389.39 L364.55,387.59 L365.62,385.76 L366.68,383.92 L367.73,382.05 L368.77,380.17 L369.80,378.27 L370.78,376.35 L371.67,374.41 L372.48,372.45 L373.23,370.47 L373.96,368.47 L374.69,366.45 L375.45,364.42 L376.28,362.36 L377.20,360.28 L378.23,358.19 L379.33,356.07 L380.48,353.93 L381.65,351.78 L382.84,349.60 L384.01,347.40 L385.14,345.19 L386.20,342.95 L387.21,340.69 L388.26,338.41 L389.32,336.11 L390.40,333.79 L391.48,331.45 L392.54,329.08 L393.59,326.70 L394.60,324.29 L395.63,321.87 L396.70,319.42 L397.78,316.95 L398.86,314.45 L399.94,311.94 L400.99,309.40 L402.00,306.84 L403.06,304.26 L404.17,301.65 L405.29,299.02 L405.73,297.96 L406.17,296.90 L406.59,295.84 L407.00,294.77 L407.40,293.69 L407.79,292.62 L408.18,291.54 L408.56,290.45 L408.94,289.36 L409.32,288.27 L409.70,287.18 L410.07,286.08 L410.45,284.97 L410.82,283.87 L411.20,282.76 L411.57,281.64 L411.95,280.52 L412.33,279.40 L412.72,278.27 L413.11,277.14 L413.50,276.01 L413.90,274.87 L414.31,273.72 L414.73,272.58 L415.16,271.43 L415.59,270.27 L416.03,269.11 L416.47,267.95 L416.92,266.78 L417.36,265.61 L417.81,264.43 L418.25,263.25 L418.69,262.07 L419.13,260.88 L419.56,259.69 L419.98,258.49 L420.40,257.29 L420.80,256.09 L421.19,254.88 L421.56,253.66 L421.91,252.44 L422.26,251.22 L422.59,249.99 L422.92,248.76 L423.24,247.53 L423.56,246.29 L423.89,245.04 L424.21,243.79 L424.55,242.54 L424.89,241.28 L425.24,240.02 L425.61,238.75 L426.00,237.48 L426.39,236.20 L426.74,234.92 L427.07,233.63 L427.39,232.34 L427.71,231.05 L428.05,229.74 L428.41,228.44 L428.80,227.13 L429.24,225.81 L429.71,224.49 L430.19,223.17 L430.67,221.84 L431.14,220.50 L431.59,219.16 L432.00,217.82 L432.42,216.47 L432.86,215.11 L433.31,213.75 L433.78,212.39 L434.25,211.02 L434.74,209.64 L435.22,208.26 L435.71,206.87 L436.19,205.48 L436.66,204.09 L437.13,202.68 L437.57,201.28 L438.00,199.86 L438.40,198.44 L438.76,197.02 L439.10,195.59 L439.42,194.15 L439.71,192.71 L440.00,191.26 L440.27,189.81 L440.55,188.35 L440.83,186.89 L441.12,185.42 L441.42,183.94 L441.75,182.46 L442.11,180.97 L442.50,179.48 L442.92,177.98 L443.37,176.47 L443.83,174.96 L444.30,173.44 L444.78,171.92 L445.25,170.38 L445.72,168.85 L446.17,167.30 L446.60,165.75 L447.00,164.20 L447.40,162.63 L447.80,161.06 L448.20,159.49 L448.60,157.90 L449.00,156.31 L449.40,154.71 L449.80,153.11 L450.20,151.50 L450.60,149.88 L451.00,148.26 L451.40,146.63 L451.80,144.99 L452.20,143.34 L452.60,141.69 L453.00,140.03 L453.40,138.36 L453.80,136.69 L454.20,135.00 L454.60,133.31 L455.00,131.61 L455.40,129.91 L455.80,128.20 L456.20,126.47 L456.60,124.75 L457.00,123.01 L457.40,121.26 L457.80,119.51 L458.20,117.75 L458.60,115.98 L459.00,114.20 L459.40,112.42 L459.80,110.62 L460.20,108.82 L460.60,107.01 L461.00,105.19 L461.40,103.36 L461.80,101.52" stroke="#c00000"/>
<path d="M118.00,514.50 L119.00,514.49 L120.00,514.48 L121.00,514.46 L122.00,514.45 L123.00,514.44 L124.00,514.42 L125.00,514.41 L126.00,514.39 L127.00,514.37 L128.00,514.36 L129.00,514.34 L130.00,514.32 L131.00,514.30 L132.00,514.28 L133.00,514.26 L134.00,514.24 L135.00,514.22 L136.00,514.20 L137.00,514.17 L138.00,514.15 L139.00,514.12 L140.00,514.10 L141.00,514.07 L142.00,514.04 L143.00,514.01 L144.00,513.98 L145.00,513.95 L146.00,513.92 L147.00,513.89 L148.00,513.86 L149.00,513.82 L150.00,513.79 L151.00,513.75 L152.00,513.72 L153.00,513.68 L154.00,513.64 L155.00,513.60 L156.00,513.56 L157.00,513.52 L158.00,513.48 L159.00,513.43 L160.00,513.39 L161.00,513.35 L162.00,513.30 L163.00,513.25 L164.00,513.20 L165.00,513.16 L166.00,513.11 L167.00,513.05 L168.00,513.00 L169.00,512.95 L170.00,512.90 L171.00,512.84 L172.00,512.78 L173.00,512.73 L174.00,512.67 L175.00,512.61 L176.00,512.55 L177.00,512.49 L178.00,512.43 L179.00,512.36 L180.00,512.30 L181.00,512.24 L182.00,512.17 L183.00,512.10 L184.00,512.04 L185.00,511.97 L186.00,511.90 L187.00,511.83 L188.00,511.76 L189.00,511.68 L190.00,511.61 L191.00,511.54 L192.00,511.46 L193.00,511.38 L194.00,511.31 L195.00,511.23 L196.00,511.15 L197.00,511.07 L198.00,510.99 L199.00,510.91 L200.00,510.83 L201.00,510.74 L202.00,510.66 L203.00,510.57 L204.00,510.49 L205.00,510.40 L206.00,510.31 L207.00,510.22 L208.00,510.13 L209.00,510.04 L210.00,509.95 L211.00,509.86 L212.00,509.77 L213.00,509.67 L214.00,509.58 L215.00,509.48 L216.00,509.38 L217.00,509.28 L218.00,509.19 L219.00,509.09 L220.00,508.99 L221.00,508.88 L222.00,508.78 L223.00,508.68 L224.00,508.57 L225.00,508.47 L226.00,508.36 L227.00,508.25 L228.00,508.14 L229.00,508.03 L230.00,507.92 L231.00,507.81 L232.00,507.70 L233.00,507.58 L234.00,507.47 L235.00,507.35 L236.00,507.24 L237.00,507.12 L238.00,507.00 L239.00,506.88 L240.00,506.75 L241.00,506.63 L242.00,506.51 L243.00,506.38 L244.00,506.25 L245.00,506.12 L246.00,505.99 L247.00,505.86 L248.00,505.73 L249.00,505.60 L250.00,505.46 L251.00,505.32 L252.00,505.18 L253.00,505.04 L254.00,504.90 L255.00,504.76 L256.00,504.61 L257.00,504.47 L258.00,504.32 L259.00,504.17 L260.00,504.02 L261.00,503.86 L262.00,503.71 L263.00,503.55 L264.00,503.39 L265.00,503.23 L266.00,503.06 L267.00,502.90 L268.00,502.73 L269.00,502.56 L270.00,502.38 L271.00,502.21 L272.00,502.03 L273.00,501.85 L274.00,501.67 L275.00,501.48 L276.00,501.30 L277.00,501.11 L278.00,500.91 L279.00,500.72 L280.00,500.52 L281.00,500.32 L282.00,500.11 L283.00,499.90 L284.00,499.69 L285.00,499.48 L286.00,499.26 L287.00,499.04 L288.00,498.82 L289.00,498.59 L290.00,498.36 L291.00,498.12 L292.00,497.88 L293.00,497.64 L294.00,497.40 L295.00,497.15 L296.00,496.89 L297.00,496.63 L298.00,496.37 L299.00,496.10 L300.00,495.83 L301.00,495.55 L302.00,495.27 L303.00,494.99 L304.00,494.69 L305.00,494.40 L306.00,494.10 L307.00,493.79 L308.00,493.48 L309.00,493.16 L310.00,492.84 L311.00,492.51 L312.00,492.17 L313.00,491.83 L314.00,491.49 L315.00,491.13 L316.00,490.78 L317.00,490.41 L318.00,490.04 L319.00,489.66 L320.00,489.27 L321.00,488.88 L322.00,488.48 L323.00,488.07 L324.00,487.65 L325.00,487.23 L326.00,486.80 L327.00,486.36 L328.00,485.91 L329.00,485.45 L330.00,484.99 L331.00,484.52 L332.00,484.03 L333.00,483.54 L334.00,483.04 L335.00,482.53 L336.00,482.01 L337.00,481.48 L338.00,480.94 L339.00,480.39 L340.00,479.83 L341.00,479.26 L342.00,478.67 L343.00,478.08 L344.00,477.47 L345.00,476.86 L346.00,476.23 L347.00,475.59 L348.00,474.94 L349.00,474.27 L350.00,473.59 L351.00,472.90 L352.00,472.20 L353.00,471.48 L354.00,470.75 L355.00,470.00 L356.00,469.24 L357.00,468.46 L358.00,467.68 L359.00,466.87 L360.00,466.05 L361.00,465.22 L362.00,464.36 L363.00,463.50 L364.00,462.61 L365.00,461.71 L366.00,460.80 L367.00,459.86 L368.00,458.91 L369.00,457.94 L370.00,456.96 L371.00,455.95 L372.00,454.93 L373.00,453.88 L374.00,452.82 L375.00,451.74 L376.00,450.64 L377.00,449.52 L378.00,448.38 L379.00,447.22 L380.00,446.03 L381.00,444.83 L382.00,443.61 L383.00,442.36 L384.00,441.10 L385.00,439.81 L386.00,438.49 L387.00,437.16 L388.00,435.81 L389.00,434.43 L390.00,433.02 L391.00,431.60 L392.00,430.15 L393.00,428.68 L394.00,427.18 L395.00,425.66 L396.00,424.12 L397.00,422.55 L398.00,420.96 L399.00,419.34 L400.00,417.70 L401.00,416.03 L402.00,414.34 L403.00,412.62 L404.00,410.88 L405.00,409.12 L406.00,407.33 L407.00,405.51 L408.00,403.67 L409.00,401.81 L410.00,399.92 L411.00,398.01 L412.00,396.07 L413.00,394.11 L414.00,392.12 L415.00,390.11 L416.00,388.08 L417.00,386.02 L418.00,383.94 L419.00,381.84 L420.00,379.72 L421.00,377.58 L422.00,375.41 L423.00,373.22 L424.00,371.02 L425.00,368.79 L426.00,366.55 L427.00,364.28 L428.00,362.00 L429.00,359.70 L430.00,357.39 L431.00,355.06 L432.00,352.72 L433.00,350.36 L434.00,347.99 L435.00,345.61 L436.00,343.22 L437.00,340.82 L438.00,338.41 L439.00,336.00 L440.00,333.58 L441.00,331.15 L442.00,328.73 L443.00,326.30 L444.00,323.87 L445.00,321.44 L446.00,319.02 L447.00,316.60 L448.00,314.19 L449.00,311.78 L450.00,309.39 L451.00,307.01 L452.00,304.64 L453.00,302.29 L454.00,299.96 L454.40,299.03 L454.80,298.10 L455.20,297.18 L455.60,296.26 L456.00,295.35 L456.40,294.44 L456.80,293.53 L457.20,292.63 L457.60,291.73 L458.00,290.84 L458.40,289.95 L458.80,289.07 L459.20,288.19 L459.60,287.32 L460.00,286.45 L460.40,285.58 L460.80,284.72 L461.20,283.87 L461.60,283.02 L462.00,282.18" stroke="#3d9bff"/>
<path d="M118.00,514.67 L119.00,514.67 L120.00,514.67 L121.00,514.66 L122.00,514.66 L123.00,514.66 L124.00,514.65 L125.00,514.65 L126.00,514.65 L127.00,514.64 L128.00,514.64 L129.00,514.64 L130.00,514.63 L131.00,514.63 L132.00,514.62 L133.00,514.62 L134.00,514.61 L135.00,514.60 L136.00,514.60 L137.00,514.59 L138.00,514.59 L139.00,514.58 L140.00,514.57 L141.00,514.56 L142.00,514.55 L143.00,514.55 L144.00,514.54 L145.00,514.53 L146.00,514.52 L147.00,514.51 L148.00,514.49 L149.00,514.48 L150.00,514.47 L151.00,514.46 L152.00,514.44 L153.00,514.43 L154.00,514.42 L155.00,514.40 L156.00,514.39 L157.00,514.37 L158.00,514.35 L159.00,514.34 L160.00,514.32 L161.00,514.30 L162.00,514.28 L163.00,514.26 L164.00,514.24 L165.00,514.22 L166.00,514.19 L167.00,514.17 L168.00,514.15 L169.00,514.12 L170.00,514.10 L171.00,514.07 L172.00,514.04 L173.00,514.02 L174.00,513.99 L175.00,513.96 L176.00,513.93 L177.00,513.90 L178.00,513.86 L179.00,513.83 L180.00,513.80 L181.00,513.76 L182.00,513.72 L183.00,513.69 L184.00,513.65 L185.00,513.61 L186.00,513.57 L187.00,513.53 L188.00,513.49 L189.00,513.44 L190.00,513.40 L191.00,513.35 L192.00,513.31 L193.00,513.26 L194.00,513.21 L195.00,513.16 L196.00,513.11 L197.00,513.06 L198.00,513.01 L199.00,512.96 L200.00,512.90 L201.00,512.85 L202.00,512.79 L203.00,512.73 L204.00,512.67 L205.00,512.61 L206.00,512.55 L207.00,512.49 L208.00,512.42 L209.00,512.36 L210.00,512.29 L211.00,512.22 L212.00,512.16 L213.00,512.09 L214.00,512.02 L215.00,511.94 L216.00,511.87 L217.00,511.80 L218.00,511.72 L219.00,511.64 L220.00,511.57 L221.00,511.49 L222.00,511.41 L223.00,511.33 L224.00,511.24 L225.00,511.16 L226.00,511.07 L227.00,510.99 L228.00,510.90 L229.00,510.81 L230.00,510.72 L231.00,510.63 L232.00,510.54 L233.00,510.44 L234.00,510.35 L235.00,510.25 L236.00,510.15 L237.00,510.05 L238.00,509.95 L239.00,509.85 L240.00,509.75 L241.00,509.64 L242.00,509.53 L243.00,509.43 L244.00,509.32 L245.00,509.21 L246.00,509.10 L247.00,508.98 L248.00,508.87 L249.00,508.75 L250.00,508.63 L251.00,508.51 L252.00,508.39 L253.00,508.27 L254.00,508.15 L255.00,508.02 L256.00,507.89 L257.00,507.76 L258.00,507.63 L259.00,507.50 L260.00,507.37 L261.00,507.23 L262.00,507.09 L263.00,506.95 L264.00,506.81 L265.00,506.67 L266.00,506.52 L267.00,506.37 L268.00,506.23 L269.00,506.07 L270.00,505.92 L271.00,505.77 L272.00,505.61 L273.00,505.45 L274.00,505.29 L275.00,505.12 L276.00,504.96 L277.00,504.79 L278.00,504.62 L279.00,504.45 L280.00,504.27 L281.00,504.09 L282.00,503.91 L283.00,503.73 L284.00,503.54 L285.00,503.35 L286.00,503.16 L287.00,502.97 L288.00,502.77 L289.00,502.57 L290.00,502.37 L291.00,502.16 L292.00,501.95 L293.00,501.74 L294.00,501.53 L295.00,501.31 L296.00,501.09 L297.00,500.86 L298.00,500.63 L299.00,500.40 L300.00,500.16 L301.00,499.92 L302.00,499.68 L303.00,499.43 L304.00,499.18 L305.00,498.93 L306.00,498.67 L307.00,498.40 L308.00,498.13 L309.00,497.86 L310.00,497.58 L311.00,497.30 L312.00,497.01 L313.00,496.72 L314.00,496.43 L315.00,496.13 L316.00,495.82 L317.00,495.51 L318.00,495.19 L319.00,494.87 L320.00,494.54 L321.00,494.21 L322.00,493.87 L323.00,493.52 L324.00,493.17 L325.00,492.81 L326.00,492.45 L327.00,492.08 L328.00,491.70 L329.00,491.32 L330.00,490.93 L331.00,490.53 L332.00,490.12 L333.00,489.71 L334.00,489.29 L335.00,488.86 L336.00,488.43 L337.00,487.99 L338.00,487.53 L339.00,487.07 L340.00,486.61 L341.00,486.13 L342.00,485.64 L343.00,485.15 L344.00,484.65 L345.00,484.13 L346.00,483.61 L347.00,483.08 L348.00,482.54 L349.00,481.98 L350.00,481.42 L351.00,480.85 L352.00,480.26 L353.00,479.67 L354.00,479.06 L355.00,478.44 L356.00,477.81 L357.00,477.17 L358.00,476.52 L359.00,475.86 L360.00,475.18 L361.00,474.49 L362.00,473.78 L363.00,473.07 L364.00,472.34 L365.00,471.59 L366.00,470.83 L367.00,470.06 L368.00,469.27 L369.00,468.47 L370.00,467.65 L371.00,466.82 L372.00,465.98 L373.00,465.11 L374.00,464.23 L375.00,463.34 L376.00,462.42 L377.00,461.49 L378.00,460.55 L379.00,459.58 L380.00,458.60 L381.00,457.60 L382.00,456.59 L383.00,455.55 L384.00,454.49 L385.00,453.42 L386.00,452.33 L387.00,451.21 L388.00,450.08 L389.00,448.93 L390.00,447.75 L391.00,446.56 L392.00,445.34 L393.00,444.11 L394.00,442.85 L395.00,441.57 L396.00,440.27 L397.00,438.94 L398.00,437.60 L399.00,436.23 L400.00,434.84 L401.00,433.42 L402.00,431.98 L403.00,430.52 L404.00,429.03 L405.00,427.52 L406.00,425.99 L407.00,424.43 L408.00,422.85 L409.00,421.24 L410.00,419.61 L411.00,417.95 L412.00,416.27 L413.00,414.56 L414.00,412.83 L415.00,411.07 L416.00,409.29 L417.00,407.48 L418.00,405.65 L419.00,403.79 L420.00,401.91 L421.00,400.00 L422.00,398.06 L423.00,396.10 L424.00,394.12 L425.00,392.11 L426.00,390.08 L427.00,388.02 L428.00,385.94 L429.00,383.83 L430.00,381.71 L431.00,379.55 L432.00,377.38 L433.00,375.18 L434.00,372.96 L435.00,370.72 L436.00,368.46 L437.00,366.18 L438.00,363.88 L439.00,361.56 L440.00,359.22 L441.00,356.86 L442.00,354.49 L443.00,352.10 L444.00,349.69 L445.00,347.27 L446.00,344.83 L447.00,342.39 L448.00,339.93 L449.00,337.46 L450.00,334.98 L451.00,332.49 L452.00,330.00 L453.00,327.50 L454.00,325.00 L455.00,322.49 L456.00,319.98 L457.00,317.47 L458.00,314.97 L459.00,312.46 L460.00,309.97 L461.00,307.47 L462.00,304.99" stroke="#955050"/>
</g>
<rect x="125.4" y="73.4" width="331.2" height="454.6" fill="none" stroke="#000" stroke-width="2.2"/>
<g font-family='"Liberation Sans", sans-serif' font-size="35" fill="#000">
<text transform="translate(115,525.1) scale(1,1.045)" text-anchor="end">0.0</text>
<text transform="translate(115,436.8) scale(1,1.045)" text-anchor="end">0.2</text>
<text transform="translate(115,348.6) scale(1,1.045)" text-anchor="end">0.4</text>
<text transform="translate(115,260.3) scale(1,1.045)" text-anchor="end">0.6</text>
<text transform="translate(115,172.1) scale(1,1.045)" text-anchor="end">0.8</text>
<text transform="translate(115,83.8) scale(1,1.045)" text-anchor="end">1.0</text>
<text transform="translate(125.4,566.2) scale(1,1.045)" text-anchor="middle">1.5</text>
<text transform="translate(291.0,566.2) scale(1,1.045)" text-anchor="middle">1.6</text>
<text transform="translate(456.6,566.2) scale(1,1.045)" text-anchor="middle">1.7</text>
</g>
<text x="79.8" y="615.6" font-family='"Liberation Sans", sans-serif' font-size="37.4" fill="#000">Potential (V) versus RHE</text>
<text transform="translate(45.7,534.8) rotate(-90)" font-family='"Liberation Sans", sans-serif' font-size="37.5" fill="#000">Current density (mA/cm<tspan font-size="24" dy="-12.7">2</tspan><tspan font-size="24.5" dx="0.5" dy="21.3">geo</tspan><tspan dy="-8.6">)</tspan></text>
<line x1="150.8" y1="99.0" x2="227.6" y2="99.0" stroke="#000099" stroke-width="13.4" stroke-linecap="round"/>
<text x="247.0" y="110.8" font-family='"Liberation Sans", sans-serif' font-size="34.5" fill="#0c2164">(LaNiO<tspan font-size="22.5" dy="8.6">3</tspan><tspan dy="-8.6">)</tspan></text>
<line x1="150.8" y1="142.0" x2="227.6" y2="142.0" stroke="#ff8040" stroke-width="13.4" stroke-linecap="round"/>
<text x="254.1" y="153.3" font-family='"Liberation Sans", sans-serif' font-size="34.5" fill="#ff8c00">Fe</text>
<line x1="150.8" y1="185.0" x2="227.6" y2="185.0" stroke="#8000ff" stroke-width="13.4" stroke-linecap="round"/>
<text x="251.9" y="196.8" font-family='"Liberation Sans", sans-serif' font-size="34.5" fill="#a000c8">Co</text>
<line x1="150.8" y1="228.0" x2="227.6" y2="228.0" stroke="#c00000" stroke-width="13.4" stroke-linecap="round"/>
<text x="254.4" y="240.7" font-family='"Liberation Sans", sans-serif' font-size="34.5" fill="#990033">Cr</text>
<line x1="150.8" y1="271.0" x2="227.6" y2="271.0" stroke="#808080" stroke-width="13.4" stroke-linecap="round"/>
<text x="253.7" y="284.1" font-family='"Liberation Sans", sans-serif' font-size="34.5" fill="#706c6c">Al</text>
<line x1="150.8" y1="314.0" x2="227.6" y2="314.0" stroke="#3d9bff" stroke-width="13.4" stroke-linecap="round"/>
<text x="252.6" y="326.7" font-family='"Liberation Sans", sans-serif' font-size="34.5" fill="#10aff0">Sc</text>
<line x1="150.8" y1="357.0" x2="227.6" y2="357.0" stroke="#00ff00" stroke-width="13.4" stroke-linecap="round"/>
<text x="250.8" y="368.3" font-family='"Liberation Sans", sans-serif' font-size="34.5" fill="#33cc33">Mn</text>
<line x1="150.8" y1="400.0" x2="227.6" y2="400.0" stroke="#955050" stroke-width="13.4" stroke-linecap="round"/>
<text x="254.2" y="414.5" font-family='"Liberation Sans", sans-serif' font-size="34.5" fill="#9a5010">In</text>
<ellipse cx="437.4" cy="201.6" rx="66.8" ry="39.6" transform="rotate(62.75 437.4 201.6)" fill="none" stroke="#000" stroke-width="3.2"/>
<text x="-2" y="34" font-family='"Liberation Sans", sans-serif' font-size="43.5" font-weight="bold" fill="#000">(a)</text>
<text x="633" y="32.6" font-family='"Liberation Sans", sans-serif' font-size="44" font-weight="bold" fill="#000">(b)</text>
<defs><linearGradient id="g0" x1="0" y1="0" x2="0" y2="1"><stop offset="0" stop-color="#000030"/><stop offset="0.045" stop-color="#0000a0"/><stop offset="0.2" stop-color="#0000a0"/><stop offset="0.45" stop-color="#4848e0"/><stop offset="0.505" stop-color="#4848e0"/><stop offset="0.52" stop-color="#1c1c8c"/><stop offset="0.63" stop-color="#1c1c8c"/><stop offset="0.85" stop-color="#0e0e50"/><stop offset="0.97" stop-color="#3838b8"/><stop offset="1" stop-color="#3838b8"/></linearGradient><linearGradient id="g0l" x1="0" y1="0" x2="1" y2="0"><stop offset="0" stop-color="#000073"/><stop offset="1" stop-color="#0000a0"/></linearGradient><linearGradient id="g0r" x1="0" y1="0" x2="1" y2="0"><stop offset="0" stop-color="#000080"/><stop offset="0.6" stop-color="#0e0e50"/><stop offset="0.92" stop-color="#060624"/><stop offset="1" stop-color="#040418"/></linearGradient></defs>
<rect x="628.0" y="92.0" width="243.5" height="29.6" fill="url(#g0)"/>
<polygon points="628.0,92.8 641.5,106.8 628.0,121.6" fill="url(#g0l)"/>
<polygon points="871.5,92.8 857.5,106.8 871.5,121.6" fill="url(#g0r)"/>
<defs><linearGradient id="g1" x1="0" y1="0" x2="0" y2="1"><stop offset="0" stop-color="#a06010"/><stop offset="0.045" stop-color="#e88800"/><stop offset="0.2" stop-color="#e88800"/><stop offset="0.45" stop-color="#ffc030"/><stop offset="0.505" stop-color="#ffc030"/><stop offset="0.52" stop-color="#d07a0a"/><stop offset="0.63" stop-color="#d07a0a"/><stop offset="0.85" stop-color="#7a4a10"/><stop offset="0.97" stop-color="#e89030"/><stop offset="1" stop-color="#e89030"/></linearGradient><linearGradient id="g1l" x1="0" y1="0" x2="1" y2="0"><stop offset="0" stop-color="#a76100"/><stop offset="1" stop-color="#e88800"/></linearGradient><linearGradient id="g1r" x1="0" y1="0" x2="1" y2="0"><stop offset="0" stop-color="#b96c00"/><stop offset="0.6" stop-color="#7a4a10"/><stop offset="0.92" stop-color="#362107"/><stop offset="1" stop-color="#241604"/></linearGradient></defs>
<rect x="628.0" y="147.9" width="485.9" height="29.6" fill="url(#g1)"/>
<polygon points="628.0,148.7 641.5,162.7 628.0,177.5" fill="url(#g1l)"/>
<polygon points="1113.9,148.7 1099.9,162.7 1113.9,177.5" fill="url(#g1r)"/>
<defs><linearGradient id="g2" x1="0" y1="0" x2="0" y2="1"><stop offset="0" stop-color="#200830"/><stop offset="0.045" stop-color="#7030a8"/><stop offset="0.2" stop-color="#7030a8"/><stop offset="0.45" stop-color="#b070e8"/><stop offset="0.505" stop-color="#b070e8"/><stop offset="0.52" stop-color="#6c3a98"/><stop offset="0.63" stop-color="#6c3a98"/><stop offset="0.85" stop-color="#44205c"/><stop offset="0.97" stop-color="#9050c8"/><stop offset="1" stop-color="#9050c8"/></linearGradient><linearGradient id="g2l" x1="0" y1="0" x2="1" y2="0"><stop offset="0" stop-color="#502278"/><stop offset="1" stop-color="#7030a8"/></linearGradient><linearGradient id="g2r" x1="0" y1="0" x2="1" y2="0"><stop offset="0" stop-color="#592686"/><stop offset="0.6" stop-color="#44205c"/><stop offset="0.92" stop-color="#1e0e29"/><stop offset="1" stop-color="#14091b"/></linearGradient></defs>
<rect x="628.0" y="203.9" width="574.6" height="29.6" fill="url(#g2)"/>
<polygon points="628.0,204.7 641.5,218.7 628.0,233.5" fill="url(#g2l)"/>
<polygon points="1202.6,204.7 1188.6,218.7 1202.6,233.5" fill="url(#g2r)"/>
<defs><linearGradient id="g3" x1="0" y1="0" x2="0" y2="1"><stop offset="0" stop-color="#600020"/><stop offset="0.045" stop-color="#a00038"/><stop offset="0.2" stop-color="#a00038"/><stop offset="0.45" stop-color="#e03c74"/><stop offset="0.505" stop-color="#e03c74"/><stop offset="0.52" stop-color="#960c3c"/><stop offset="0.63" stop-color="#960c3c"/><stop offset="0.85" stop-color="#580c28"/><stop offset="0.97" stop-color="#a02c58"/><stop offset="1" stop-color="#a02c58"/></linearGradient><linearGradient id="g3l" x1="0" y1="0" x2="1" y2="0"><stop offset="0" stop-color="#730028"/><stop offset="1" stop-color="#a00038"/></linearGradient><linearGradient id="g3r" x1="0" y1="0" x2="1" y2="0"><stop offset="0" stop-color="#80002c"/><stop offset="0.6" stop-color="#580c28"/><stop offset="0.92" stop-color="#270512"/><stop offset="1" stop-color="#1a030c"/></linearGradient></defs>
<rect x="628.0" y="258.6" width="176.0" height="29.6" fill="url(#g3)"/>
<polygon points="628.0,259.4 641.5,273.4 628.0,288.2" fill="url(#g3l)"/>
<defs><linearGradient id="g4" x1="0" y1="0" x2="0" y2="1"><stop offset="0" stop-color="#555555"/><stop offset="0.045" stop-color="#787474"/><stop offset="0.2" stop-color="#787474"/><stop offset="0.45" stop-color="#bcb4b4"/><stop offset="0.505" stop-color="#bcb4b4"/><stop offset="0.52" stop-color="#706c6c"/><stop offset="0.63" stop-color="#706c6c"/><stop offset="0.85" stop-color="#484444"/><stop offset="0.97" stop-color="#8a8484"/><stop offset="1" stop-color="#8a8484"/></linearGradient><linearGradient id="g4l" x1="0" y1="0" x2="1" y2="0"><stop offset="0" stop-color="#565353"/><stop offset="1" stop-color="#787474"/></linearGradient><linearGradient id="g4r" x1="0" y1="0" x2="1" y2="0"><stop offset="0" stop-color="#605c5c"/><stop offset="0.6" stop-color="#484444"/><stop offset="0.92" stop-color="#201e1e"/><stop offset="1" stop-color="#151414"/></linearGradient></defs>
<rect x="628.0" y="313.9" width="457.5" height="29.6" fill="url(#g4)"/>
<polygon points="628.0,314.7 641.5,328.7 628.0,343.5" fill="url(#g4l)"/>
<polygon points="1085.5,314.7 1071.5,328.7 1085.5,343.5" fill="url(#g4r)"/>
<defs><linearGradient id="g5" x1="0" y1="0" x2="0" y2="1"><stop offset="0" stop-color="#0a3a60"/><stop offset="0.045" stop-color="#0870c8"/><stop offset="0.2" stop-color="#0870c8"/><stop offset="0.45" stop-color="#38b0ff"/><stop offset="0.505" stop-color="#38b0ff"/><stop offset="0.52" stop-color="#1068b0"/><stop offset="0.63" stop-color="#1068b0"/><stop offset="0.85" stop-color="#0c4070"/><stop offset="0.97" stop-color="#2080d0"/><stop offset="1" stop-color="#2080d0"/></linearGradient><linearGradient id="g5l" x1="0" y1="0" x2="1" y2="0"><stop offset="0" stop-color="#055090"/><stop offset="1" stop-color="#0870c8"/></linearGradient><linearGradient id="g5r" x1="0" y1="0" x2="1" y2="0"><stop offset="0" stop-color="#0659a0"/><stop offset="0.6" stop-color="#0c4070"/><stop offset="0.92" stop-color="#051c32"/><stop offset="1" stop-color="#031321"/></linearGradient></defs>
<rect x="628.0" y="369.8" width="281.0" height="29.6" fill="url(#g5)"/>
<polygon points="628.0,370.6 641.5,384.6 628.0,399.4" fill="url(#g5l)"/>
<polygon points="909.0,370.6 895.0,384.6 909.0,399.4" fill="url(#g5r)"/>
<defs><linearGradient id="g6" x1="0" y1="0" x2="0" y2="1"><stop offset="0" stop-color="#1a6a1a"/><stop offset="0.045" stop-color="#30d030"/><stop offset="0.2" stop-color="#30d030"/><stop offset="0.45" stop-color="#70ff70"/><stop offset="0.505" stop-color="#70ff70"/><stop offset="0.52" stop-color="#38b038"/><stop offset="0.63" stop-color="#38b038"/><stop offset="0.85" stop-color="#287028"/><stop offset="0.97" stop-color="#40d040"/><stop offset="1" stop-color="#40d040"/></linearGradient><linearGradient id="g6l" x1="0" y1="0" x2="1" y2="0"><stop offset="0" stop-color="#229522"/><stop offset="1" stop-color="#30d030"/></linearGradient><linearGradient id="g6r" x1="0" y1="0" x2="1" y2="0"><stop offset="0" stop-color="#26a626"/><stop offset="0.6" stop-color="#287028"/><stop offset="0.92" stop-color="#123212"/><stop offset="1" stop-color="#0c210c"/></linearGradient></defs>
<rect x="628.0" y="425.2" width="220.8" height="29.6" fill="url(#g6)"/>
<polygon points="628.0,426.0 641.5,440.0 628.0,454.8" fill="url(#g6l)"/>
<polygon points="848.8,426.0 834.8,440.0 848.8,454.8" fill="url(#g6r)"/>
<defs><linearGradient id="g7" x1="0" y1="0" x2="0" y2="1"><stop offset="0" stop-color="#6a4030"/><stop offset="0.045" stop-color="#8a5a48"/><stop offset="0.2" stop-color="#8a5a48"/><stop offset="0.45" stop-color="#d0a090"/><stop offset="0.505" stop-color="#d0a090"/><stop offset="0.52" stop-color="#7a5040"/><stop offset="0.63" stop-color="#7a5040"/><stop offset="0.85" stop-color="#4a3028"/><stop offset="0.97" stop-color="#8a6858"/><stop offset="1" stop-color="#8a6858"/></linearGradient><linearGradient id="g7l" x1="0" y1="0" x2="1" y2="0"><stop offset="0" stop-color="#634033"/><stop offset="1" stop-color="#8a5a48"/></linearGradient><linearGradient id="g7r" x1="0" y1="0" x2="1" y2="0"><stop offset="0" stop-color="#6e4839"/><stop offset="0.6" stop-color="#4a3028"/><stop offset="0.92" stop-color="#211512"/><stop offset="1" stop-color="#160e0c"/></linearGradient></defs>
<rect x="628.0" y="480.7" width="227.3" height="29.6" fill="url(#g7)"/>
<polygon points="628.0,481.5 641.5,495.5 628.0,510.3" fill="url(#g7l)"/>
<polygon points="855.3,481.5 841.3,495.5 855.3,510.3" fill="url(#g7r)"/>
<defs><linearGradient id="g8" x1="0" y1="0" x2="0" y2="1"><stop offset="0" stop-color="#c03020"/><stop offset="0.045" stop-color="#ff6030"/><stop offset="0.2" stop-color="#ff6030"/><stop offset="0.45" stop-color="#ff9060"/><stop offset="0.505" stop-color="#ff9060"/><stop offset="0.52" stop-color="#e86040"/><stop offset="0.63" stop-color="#e86040"/><stop offset="0.85" stop-color="#8a3a24"/><stop offset="0.97" stop-color="#ff6a40"/><stop offset="1" stop-color="#ff6a40"/></linearGradient><linearGradient id="g8l" x1="0" y1="0" x2="1" y2="0"><stop offset="0" stop-color="#b74522"/><stop offset="1" stop-color="#ff6030"/></linearGradient><linearGradient id="g8r" x1="0" y1="0" x2="1" y2="0"><stop offset="0" stop-color="#cc4c26"/><stop offset="0.6" stop-color="#8a3a24"/><stop offset="0.92" stop-color="#3e1a10"/><stop offset="1" stop-color="#29110a"/></linearGradient></defs>
<rect x="804.0" y="258.6" width="463.0" height="29.6" fill="url(#g8)"/>
<polygon points="804.0,259.4 817.5,273.4 804.0,288.2" fill="url(#g8l)"/>
<polygon points="1267.0,259.4 1253.0,273.4 1267.0,288.2" fill="url(#g8r)"/>
<line x1="804" y1="246.3" x2="804" y2="299.5" stroke="#000" stroke-width="1.9"/>
<line x1="1267" y1="246.8" x2="1267" y2="299.3" stroke="#000" stroke-width="1.9"/>
<line x1="805" y1="273.0" x2="1266" y2="273.0" stroke="#000" stroke-width="2" stroke-dasharray="2.1 2.4"/>
<line x1="872.9" y1="73.3" x2="872.9" y2="528.5" stroke="#000" stroke-width="3.6" stroke-dasharray="3.6 3.877" stroke-dashoffset="-2.9"/>
<path d="M1256.1,154.6 C1272,155 1283,156 1285.9,160.5 L1285.9,243 C1286,247 1295,248.6 1315.3,248.9 C1295,249.2 1286,250.5 1285.9,254.5 L1285.9,338.5 C1283,342 1272,343 1256.1,343.4" fill="none" stroke="#000" stroke-width="2.6"/>
<rect x="626.0" y="73.3" width="715.5" height="455.2" fill="none" stroke="#000" stroke-width="2.2"/>
<line x1="658.5" y1="528.5" x2="658.5" y2="524.0" stroke="#000" stroke-width="2.2"/>
<line x1="658.5" y1="73.3" x2="658.5" y2="77.8" stroke="#000" stroke-width="2.2"/>
<line x1="691.1" y1="528.5" x2="691.1" y2="524.0" stroke="#000" stroke-width="2.2"/>
<line x1="691.1" y1="73.3" x2="691.1" y2="77.8" stroke="#000" stroke-width="2.2"/>
<line x1="723.6" y1="528.5" x2="723.6" y2="524.0" stroke="#000" stroke-width="2.2"/>
<line x1="723.6" y1="73.3" x2="723.6" y2="77.8" stroke="#000" stroke-width="2.2"/>
<line x1="756.2" y1="528.5" x2="756.2" y2="524.0" stroke="#000" stroke-width="2.2"/>
<line x1="756.2" y1="73.3" x2="756.2" y2="77.8" stroke="#000" stroke-width="2.2"/>
<line x1="788.7" y1="528.5" x2="788.7" y2="520.5" stroke="#000" stroke-width="2.2"/>
<line x1="788.7" y1="73.3" x2="788.7" y2="81.3" stroke="#000" stroke-width="2.2"/>
<line x1="821.3" y1="528.5" x2="821.3" y2="524.0" stroke="#000" stroke-width="2.2"/>
<line x1="821.3" y1="73.3" x2="821.3" y2="77.8" stroke="#000" stroke-width="2.2"/>
<line x1="853.8" y1="528.5" x2="853.8" y2="524.0" stroke="#000" stroke-width="2.2"/>
<line x1="853.8" y1="73.3" x2="853.8" y2="77.8" stroke="#000" stroke-width="2.2"/>
<line x1="886.4" y1="528.5" x2="886.4" y2="524.0" stroke="#000" stroke-width="2.2"/>
<line x1="886.4" y1="73.3" x2="886.4" y2="77.8" stroke="#000" stroke-width="2.2"/>
<line x1="918.9" y1="528.5" x2="918.9" y2="524.0" stroke="#000" stroke-width="2.2"/>
<line x1="918.9" y1="73.3" x2="918.9" y2="77.8" stroke="#000" stroke-width="2.2"/>
<line x1="951.5" y1="528.5" x2="951.5" y2="520.5" stroke="#000" stroke-width="2.2"/>
<line x1="951.5" y1="73.3" x2="951.5" y2="81.3" stroke="#000" stroke-width="2.2"/>
<line x1="984.0" y1="528.5" x2="984.0" y2="524.0" stroke="#000" stroke-width="2.2"/>
<line x1="984.0" y1="73.3" x2="984.0" y2="77.8" stroke="#000" stroke-width="2.2"/>
<line x1="1016.5" y1="528.5" x2="1016.5" y2="524.0" stroke="#000" stroke-width="2.2"/>
<line x1="1016.5" y1="73.3" x2="1016.5" y2="77.8" stroke="#000" stroke-width="2.2"/>
<line x1="1049.1" y1="528.5" x2="1049.1" y2="524.0" stroke="#000" stroke-width="2.2"/>
<line x1="1049.1" y1="73.3" x2="1049.1" y2="77.8" stroke="#000" stroke-width="2.2"/>
<line x1="1081.6" y1="528.5" x2="1081.6" y2="524.0" stroke="#000" stroke-width="2.2"/>
<line x1="1081.6" y1="73.3" x2="1081.6" y2="77.8" stroke="#000" stroke-width="2.2"/>
<line x1="1114.2" y1="528.5" x2="1114.2" y2="520.5" stroke="#000" stroke-width="2.2"/>
<line x1="1114.2" y1="73.3" x2="1114.2" y2="81.3" stroke="#000" stroke-width="2.2"/>
<line x1="1146.7" y1="528.5" x2="1146.7" y2="524.0" stroke="#000" stroke-width="2.2"/>
<line x1="1146.7" y1="73.3" x2="1146.7" y2="77.8" stroke="#000" stroke-width="2.2"/>
<line x1="1179.3" y1="528.5" x2="1179.3" y2="524.0" stroke="#000" stroke-width="2.2"/>
<line x1="1179.3" y1="73.3" x2="1179.3" y2="77.8" stroke="#000" stroke-width="2.2"/>
<line x1="1211.8" y1="528.5" x2="1211.8" y2="524.0" stroke="#000" stroke-width="2.2"/>
<line x1="1211.8" y1="73.3" x2="1211.8" y2="77.8" stroke="#000" stroke-width="2.2"/>
<line x1="1244.4" y1="528.5" x2="1244.4" y2="524.0" stroke="#000" stroke-width="2.2"/>
<line x1="1244.4" y1="73.3" x2="1244.4" y2="77.8" stroke="#000" stroke-width="2.2"/>
<line x1="1276.9" y1="528.5" x2="1276.9" y2="520.5" stroke="#000" stroke-width="2.2"/>
<line x1="1276.9" y1="73.3" x2="1276.9" y2="81.3" stroke="#000" stroke-width="2.2"/>
<line x1="1309.4" y1="528.5" x2="1309.4" y2="524.0" stroke="#000" stroke-width="2.2"/>
<line x1="1309.4" y1="73.3" x2="1309.4" y2="77.8" stroke="#000" stroke-width="2.2"/>
<g font-family='"Liberation Sans", sans-serif' font-size="34.5" fill="#000">
<text transform="translate(626.0,565.4) scale(1,1.045)" text-anchor="middle">0.00</text>
<text transform="translate(788.7,565.4) scale(1,1.045)" text-anchor="middle">0.05</text>
<text transform="translate(951.5,565.4) scale(1,1.045)" text-anchor="middle">0.10</text>
<text transform="translate(1114.2,565.4) scale(1,1.045)" text-anchor="middle">0.15</text>
<text transform="translate(1276.9,565.4) scale(1,1.045)" text-anchor="middle">0.20</text>
</g>
<text x="760.5" y="614.2" font-family='"Liberation Sans", sans-serif' font-size="37.7" fill="#000">Current density (mA/cm<tspan font-size="24" dy="-12.7">2</tspan><tspan font-size="24.5" dy="21.3">geo</tspan><tspan dx="2" dy="-8.6">)</tspan></text>
<text x="496.2" y="75.9" font-family='"Liberation Sans", sans-serif' font-size="34.6" fill="#000">Pristine</text>
<text x="496.3" y="117.4" font-family='"Liberation Sans", sans-serif' font-size="34.6" fill="#0c2164">LaNiO<tspan font-size="22" dy="7.9">3</tspan></text>
<text x="617.0" y="172.8" text-anchor="end" font-family='"Liberation Sans", sans-serif' font-size="35" fill="#ff9300">Fe</text>
<text x="617.5" y="229.0" text-anchor="end" font-family='"Liberation Sans", sans-serif' font-size="35" fill="#9900cc">Co</text>
<text x="611.5" y="281.0" text-anchor="end" font-family='"Liberation Sans", sans-serif' font-size="35" fill="#990033">Cr</text>
<text x="606.5" y="339.8" text-anchor="end" font-family='"Liberation Sans", sans-serif' font-size="35" fill="#726d6d">Al</text>
<text x="612.0" y="392.8" text-anchor="end" font-family='"Liberation Sans", sans-serif' font-size="35" fill="#10aff0">Sc</text>
<text x="616.5" y="446.9" text-anchor="end" font-family='"Liberation Sans", sans-serif' font-size="35" fill="#33cc33">Mn</text>
<text x="617.5" y="506.6" text-anchor="end" font-family='"Liberation Sans", sans-serif' font-size="35" fill="#9a5010">In</text>
<text x="1323.5" y="118.1" text-anchor="end" font-family='"Liberation Sans", sans-serif' font-size="34.5" fill="#000">(001) surfaces</text>
<text x="1324.5" y="501.7" text-anchor="end" font-family='"Liberation Sans", sans-serif' font-size="34" fill="#000">@1.63 V vs. RHE</text></svg>
</body></html>
